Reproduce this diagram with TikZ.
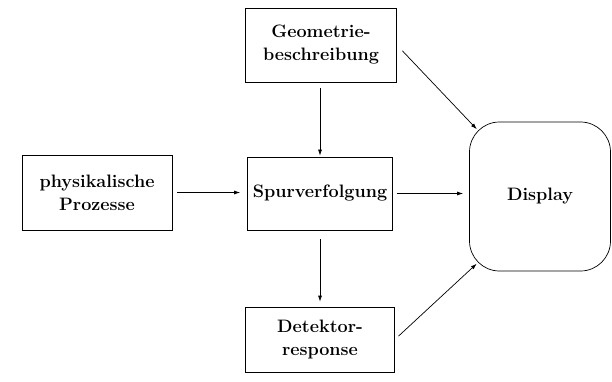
\documentclass[tikz,border=0pt]{standalone}
\usetikzlibrary{arrows.meta}
\begin{document}
\begin{tikzpicture}[x=1pt,y=-1pt,
  box/.style={draw,line width=0.7pt,rectangle,inner sep=0pt,align=center,
    font=\fontsize{18}{23}\selectfont\bfseries},
  arr/.style={draw,line width=0.7pt,-{Latex[length=6pt,width=4pt]}}]
\useasboundingbox (0,0) rectangle (612,382);
\node[box,minimum width=151pt,minimum height=74pt] (geo) at (321,45) {Geometrie-\\beschreibung};
\node[box,minimum width=150pt,minimum height=75pt] (phys) at (97,192.5) {physikalische\\Prozesse};
\node[box,minimum width=145pt,minimum height=73pt] (spur) at (320,193.5) {Spurverfolgung};
\node[box,minimum width=149pt,minimum height=65pt] (det) at (320,339.5) {Detektor-\\response};
\node[box,rounded corners=30pt,minimum width=141pt,minimum height=149pt] (disp) at (540,196.5) {Display};
\draw[arr,shorten <=6pt,shorten >=1pt] (geo.south -| spur.north) -- (spur.north);
\draw[arr,shorten <=5pt,shorten >=7pt] (phys.east) -- (phys.east -| spur.west);
\draw[arr,shorten <=4pt,shorten >=6pt] (spur.east) -- (spur.east -| disp.west);
\draw[arr,shorten <=9pt,shorten >=5pt] (spur.south) -- (det.north);
\draw[arr,shorten <=8pt,shorten >=2pt] (geo.east) -- ([shift={(9,9)}]disp.north west);
\draw[arr,shorten <=5pt,shorten >=2pt] (det.east) -- ([shift={(9,-9)}]disp.south west);
\end{tikzpicture}
\end{document}
